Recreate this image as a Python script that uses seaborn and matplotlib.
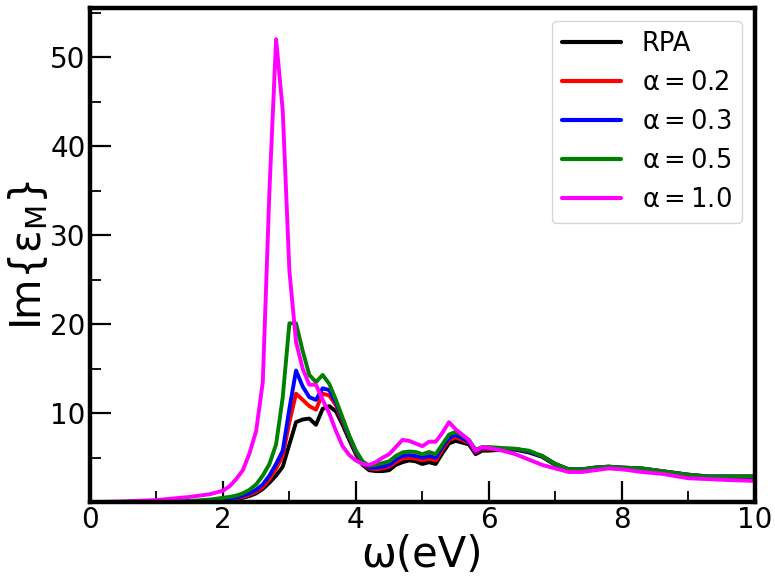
import numpy as np
import pandas as pd
import matplotlib
matplotlib.use("Agg")
import matplotlib.pyplot as plt
import seaborn as sns
from matplotlib.ticker import MultipleLocator

omega = [0.0, 0.5, 1.0, 1.5, 1.8, 2.0, 2.1, 2.2, 2.3, 2.4, 2.5, 2.6, 2.7, 2.8, 2.9,
         3.0, 3.1, 3.2, 3.3, 3.4, 3.5, 3.6, 3.7, 3.8, 3.9, 4.0, 4.1, 4.2, 4.3, 4.4,
         4.5, 4.6, 4.7, 4.8, 4.9, 5.0, 5.1, 5.2, 5.3, 5.4, 5.5, 5.6, 5.7, 5.8, 5.9,
         6.0, 6.2, 6.4, 6.6, 6.8, 7.0, 7.2, 7.4, 7.6, 7.8, 8.0, 8.3, 8.6, 9.0, 9.3,
         9.6, 10.0]

rpa = [0.0, 0.01, 0.02, 0.06, 0.12, 0.2, 0.28, 0.38, 0.5, 0.7, 1.0, 1.5, 2.2, 3.0, 4.0,
       6.5, 9.0, 9.3, 9.4, 8.7, 10.5, 10.8, 10.2, 8.7, 7.0, 5.4, 4.2, 3.6, 3.5, 3.5,
       3.6, 4.2, 4.5, 4.7, 4.6, 4.3, 4.5, 4.3, 5.5, 6.6, 6.9, 6.7, 6.5, 5.4, 5.8,
       5.8, 5.9, 5.9, 5.6, 5.1, 4.2, 3.6, 3.6, 3.8, 3.9, 3.8, 3.7, 3.4, 3.0, 2.8,
       2.8, 2.8]

a02 = [0.0, 0.01, 0.02, 0.08, 0.15, 0.28, 0.36, 0.46, 0.62, 0.85, 1.2, 1.7, 2.6, 3.8, 5.2,
       9.0, 12.2, 11.5, 10.8, 10.4, 12.2, 12.0, 10.9, 9.1, 7.3, 5.6, 4.4, 3.8, 3.7, 3.8,
       4.0, 4.5, 4.9, 5.0, 4.9, 4.7, 4.9, 4.7, 5.9, 7.0, 7.3, 7.0, 6.7, 5.6, 6.0,
       6.0, 6.0, 6.0, 5.7, 5.2, 4.3, 3.7, 3.7, 3.9, 4.0, 3.9, 3.8, 3.5, 3.1, 2.9,
       2.9, 2.9]

a03 = [0.0, 0.01, 0.03, 0.1, 0.2, 0.35, 0.45, 0.55, 0.75, 1.0, 1.4, 2.0, 3.0, 4.3, 5.8,
       10.5, 14.8, 13.0, 11.8, 11.5, 12.8, 12.6, 11.2, 9.3, 7.4, 5.7, 4.5, 3.9, 3.9, 4.0,
       4.2, 4.8, 5.2, 5.3, 5.2, 5.0, 5.2, 5.0, 6.2, 7.2, 7.6, 7.2, 6.8, 5.7, 6.1,
       6.1, 6.0, 6.0, 5.7, 5.2, 4.3, 3.7, 3.7, 3.9, 4.0, 3.9, 3.8, 3.5, 3.1, 2.9,
       2.9, 2.9]

a05 = [0.0, 0.02, 0.05, 0.15, 0.3, 0.5, 0.6, 0.75, 1.0, 1.4, 2.0, 3.0, 4.3, 6.5, 11.8,
       20.1, 20.1, 17.0, 14.3, 13.5, 14.3, 13.3, 11.5, 9.5, 7.5, 5.8, 4.6, 4.1, 4.2, 4.4,
       4.6, 5.2, 5.6, 5.7, 5.65, 5.4, 5.65, 5.4, 6.5, 7.6, 7.9, 7.5, 7.0, 5.9, 6.2,
       6.2, 6.1, 6.0, 5.8, 5.2, 4.3, 3.7, 3.7, 3.9, 4.0, 3.9, 3.8, 3.5, 3.1, 2.9,
       2.9, 2.9]

a10 = [0.0, 0.1, 0.25, 0.6, 0.9, 1.3, 1.8, 2.6, 3.6, 5.5, 8.0, 13.5, 35.0, 52.0, 44.0,
       26.0, 18.0, 15.0, 13.2, 13.2, 11.5, 10.0, 8.0, 6.3, 5.3, 4.7, 4.3, 4.2, 4.5, 5.0,
       5.4, 6.2, 7.0, 6.9, 6.6, 6.3, 6.8, 6.8, 7.8, 9.0, 8.2, 7.6, 7.0, 5.8, 6.2,
       6.1, 5.8, 5.4, 4.8, 4.2, 3.8, 3.4, 3.4, 3.6, 3.8, 3.7, 3.4, 3.2, 2.7, 2.6,
       2.5, 2.4]

labels = ["RPA", r"$\alpha = 0.2$", r"$\alpha = 0.3$", r"$\alpha = 0.5$", r"$\alpha = 1.0$"]
colors = ["black", "red", "blue", "green", "magenta"]
series = [rpa, a02, a03, a05, a10]

frames = []
for lab, vals in zip(labels, series):
    frames.append(pd.DataFrame({"omega": omega, "eps": vals, "case": lab}))
df = pd.concat(frames, ignore_index=True)

sns.set_style("ticks")
plt.rcParams["font.family"] = ["DejaVu Sans"]
plt.rcParams["mathtext.default"] = "regular"
for k in ["axes.edgecolor", "axes.labelcolor", "xtick.color", "ytick.color", "text.color"]:
    plt.rcParams[k] = "black"

fig = plt.figure(figsize=(7.75, 5.78), dpi=100)
ax = fig.add_axes([0.116, 0.131, 0.858, 0.855])

sns.lineplot(data=df, x="omega", y="eps", hue="case", hue_order=labels,
             palette=dict(zip(labels, colors)), linewidth=2.8, ax=ax,
             sort=False, estimator=None)

ax.set_xlim(0, 10)
ax.set_ylim(0, 55.5)
ax.set_xticks([0, 2, 4, 6, 8, 10])
ax.set_yticks([10, 20, 30, 40, 50])
ax.xaxis.set_minor_locator(MultipleLocator(1))
ax.yaxis.set_minor_locator(MultipleLocator(5))
ax.tick_params(axis="both", which="major", direction="in", length=15, width=1.6,
               labelsize=20, pad=3, top=False, right=False, colors="black")
ax.tick_params(axis="both", which="minor", direction="in", length=8, width=1.3,
               top=False, right=False, colors="black")
for s in ax.spines.values():
    s.set_linewidth(3.2)
    s.set_color("black")
    s.set_visible(True)

ax.set_xlabel(r"ω(eV)", fontsize=30, labelpad=0)
ax.set_ylabel(r"Im{ε$_{M}$}", fontsize=30, labelpad=0)

leg = ax.legend(loc="upper right", fontsize=18.5, handlelength=2.3, frameon=True)
for ln in leg.get_lines():
    ln.set_linewidth(3.0)
for t in leg.get_texts():
    t.set_color("black")

fig.savefig("out.png", dpi=100)
